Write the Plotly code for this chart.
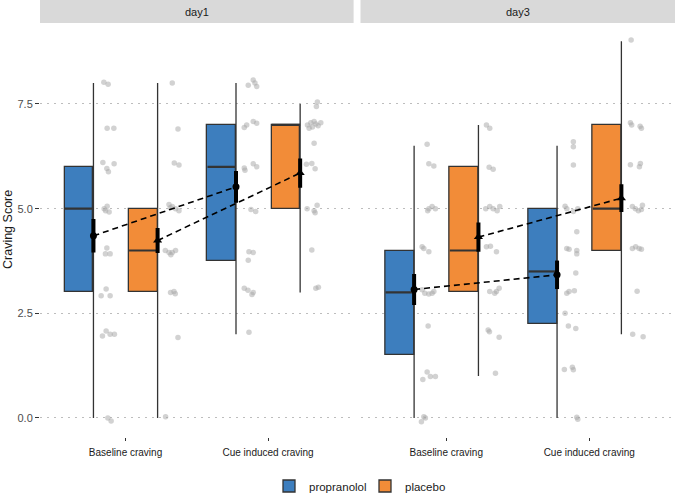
import plotly.graph_objects as go

# ---------------- data ----------------
days = ["day1", "day3"]
conditions = ["Baseline craving", "Cue induced craving"]
groups = ["propranolol", "placebo"]

# box statistics, cell order: day1-baseline, day1-cue, day3-baseline, day3-cue
prop_lo = [0, 2, 0, 0]
prop_q1 = [3, 3.75, 1.5, 2.25]
prop_med = [5, 6, 3, 3.5]
prop_q3 = [6, 7, 4, 5]
prop_hi = [8, 8, 6.5, 6.5]

plac_lo = [0, 3, 1, 2]
plac_q1 = [3, 5, 3, 4]
plac_med = [4, 7, 4, 5]
plac_q3 = [5, 7, 6, 7]
plac_hi = [8, 7.5, 7, 9]

prop_mean = [4.35, 5.52, 3.07, 3.42]
prop_se = [0.40, 0.38, 0.37, 0.34]
plac_mean = [4.24, 5.85, 4.32, 5.25]
plac_se = [0.30, 0.35, 0.35, 0.33]

# raw (jittered) observations and their horizontal jitter
d1_base_prop_y = [8.02, 7.97, 6.92, 6.92, 6.1, 6.07, 5.96, 5.88, 5.06, 5.0, 4.95, 4.92, 4.06, 3.92, 3.92,
                  3.08, 2.92, 2.92, 2.08, 1.96, 2.0, 2.0, 0.0, -0.07]
d1_base_prop_dx = [0.073, 0.103, 0.096, 0.143, 0.066, 0.145, 0.094, 0.105, 0.096, 0.075, 0.085, 0.11, 0.094,
                   0.084, 0.117, 0.089, 0.054, 0.117, 0.089, 0.063, 0.117, 0.147, 0.101, 0.124]
d1_base_plac_y = [8.0, 6.9, 6.09, 6.04, 5.1, 5.05, 5.0, 4.95, 5.02, 4.0, 3.95, 3.95, 4.0, 3.9, 3.0, 3.02, 2.97,
                  1.92, 0.03]
d1_base_plac_dx = [0.103, 0.143, 0.117, 0.15, 0.08, 0.103, 0.126, 0.15, 0.089, 0.054, 0.08, 0.103, 0.126, 0.093,
                   0.091, 0.115, 0.124, 0.143, 0.056]
d1_cue_prop_y = [7.95, 8.07, 8.0, 7.92, 6.94, 7.0, 7.08, 7.04, 5.97, 5.92, 6.07, 6.0, 4.98, 4.93, 3.97, 3.95,
                 3.77, 3.1, 3.05, 2.95, 3.0, 2.05]
d1_cue_prop_dx = [0.086, 0.121, 0.133, 0.145, 0.058, 0.075, 0.121, 0.145, 0.058, 0.063, 0.121, 0.145, 0.105,
                  0.138, 0.091, 0.121, 0.086, 0.058, 0.084, 0.112, 0.121, 0.091]
d1_cue_plac_y = [7.55, 7.44, 7.0, 7.05, 7.08, 6.95, 7.02, 7.05, 6.92, 6.98, 6.56, 6.06, 6.08, 5.95, 5.0, 4.95,
                 5.08, 4.9, 4.01, 3.1, 3.12]
d1_cue_plac_dx = [0.121, 0.114, 0.051, 0.075, 0.098, 0.086, 0.11, 0.145, 0.063, 0.126, 0.098, 0.044, 0.082,
                  0.105, 0.049, 0.098, 0.119, 0.105, 0.082, 0.11, 0.128]
d3_base_prop_y = [6.54, 6.07, 6.02, 5.0, 5.05, 5.0, 4.95, 4.09, 4.05, 3.97, 3.06, 2.98, 2.96, 2.98, 3.02, 2.2,
                  1.1, 0.99, 0.99, 0.92, 0.03, 0.0, -0.09]
d3_base_prop_dx = [0.091, 0.103, 0.138, 0.103, 0.126, 0.149, 0.095, 0.056, 0.068, 0.103, 0.056, 0.075, 0.103,
                   0.126, 0.138, 0.098, 0.091, 0.114, 0.149, 0.061, 0.068, 0.079, 0.051]
d3_base_plac_y = [7.0, 6.92, 5.99, 5.94, 5.0, 5.05, 5.0, 4.95, 5.05, 4.09, 4.1, 3.97, 3.02, 3.02, 3.1, 2.98,
                  2.1, 2.06, 1.93, 1.07]
d3_base_plac_dx = [0.056, 0.079, 0.075, 0.103, 0.051, 0.079, 0.103, 0.131, 0.149, 0.056, 0.084, 0.126, 0.079,
                   0.126, 0.145, 0.114, 0.068, 0.077, 0.145, 0.119]
d3_cue_prop_y = [6.6, 6.48, 6.04, 5.06, 5.0, 4.93, 5.0, 4.45, 4.05, 4.03, 4.0, 3.92, 3.46, 2.98, 3.02, 3.04,
                 2.5, 2.2, 2.14, 1.16, 1.21, 1.15, 0.02, -0.03]
d3_cue_prop_dx = [0.114, 0.114, 0.114, 0.056, 0.068, 0.114, 0.145, 0.138, 0.068, 0.084, 0.138, 0.138, 0.131,
                  0.068, 0.084, 0.121, 0.056, 0.079, 0.131, 0.051, 0.107, 0.114, 0.138, 0.145]
d3_cue_plac_y = [9.03, 7.05, 6.97, 6.92, 7.0, 6.05, 6.0, 6.08, 5.05, 5.0, 4.95, 4.98, 5.08, 4.05, 4.09, 4.05,
                 4.03, 3.03, 2.0, 1.94]
d3_cue_plac_dx = [0.068, 0.063, 0.131, 0.14, 0.072, 0.063, 0.126, 0.133, 0.077, 0.098, 0.119, 0.14, 0.147,
                  0.077, 0.1, 0.124, 0.14, 0.11, 0.079, 0.152]

y_ticks = [0.0, 2.5, 5.0, 7.5]
y_tick_labels = ["0.0", "2.5", "5.0", "7.5"]

# ---------------- styling ----------------
colors = {"propranolol": "#3D7EBE", "placebo": "#F28C38"}
symbols = {"propranolol": "circle", "placebo": "triangle-up"}
dodge = {"propranolol": -0.225, "placebo": 0.225}
box_w = 0.2
outline = "#333333"
FONT = "Liberation Sans, Arial, Helvetica, sans-serif"

stats = {
    "propranolol": (prop_lo, prop_q1, prop_med, prop_q3, prop_hi, prop_mean, prop_se),
    "placebo": (plac_lo, plac_q1, plac_med, plac_q3, plac_hi, plac_mean, plac_se),
}
points = {
    ("propranolol", 0): (d1_base_prop_y, d1_base_prop_dx),
    ("placebo", 0): (d1_base_plac_y, d1_base_plac_dx),
    ("propranolol", 1): (d1_cue_prop_y, d1_cue_prop_dx),
    ("placebo", 1): (d1_cue_plac_y, d1_cue_plac_dx),
    ("propranolol", 2): (d3_base_prop_y, d3_base_prop_dx),
    ("placebo", 2): (d3_base_plac_y, d3_base_plac_dx),
    ("propranolol", 3): (d3_cue_prop_y, d3_cue_prop_dx),
    ("placebo", 3): (d3_cue_plac_y, d3_cue_plac_dx),
}

fig = go.Figure()

for di, day in enumerate(days):
    xa = "x" if di == 0 else "x2"
    ya = "y" if di == 0 else "y2"
    # whiskers
    for g in groups:
        lo, q1, med, q3, hi, mn, se = stats[g]
        for ci in range(len(conditions)):
            k = di * 2 + ci
            xw = ci + 1 + dodge[g]
            fig.add_trace(go.Scatter(x=[xw, xw], y=[lo[k], hi[k]], mode="lines",
                                     line=dict(color=outline, width=1.3), showlegend=False,
                                     hoverinfo="skip", xaxis=xa, yaxis=ya))
    # boxes
    for g in groups:
        lo, q1, med, q3, hi, mn, se = stats[g]
        ks = [di * 2 + ci for ci in range(len(conditions))]
        xs = [ci + 1 + dodge[g] - box_w / 2 for ci in range(len(conditions))]
        fig.add_trace(go.Bar(x=xs, y=[q3[k] - q1[k] for k in ks], base=[q1[k] for k in ks],
                             width=box_w, marker=dict(color=colors[g], line=dict(color=outline, width=1.3)),
                             name=g, legendgroup=g, showlegend=(di == 0), xaxis=xa, yaxis=ya))
        # medians
        for ci, k in enumerate(ks):
            xw = ci + 1 + dodge[g]
            fig.add_trace(go.Scatter(x=[xw - box_w, xw], y=[med[k], med[k]], mode="lines",
                                     line=dict(color=outline, width=2.2), showlegend=False,
                                     hoverinfo="skip", xaxis=xa, yaxis=ya))
    # raw points
    for g in groups:
        for ci in range(len(conditions)):
            k = di * 2 + ci
            ys, dxs = points[(g, k)]
            xw = ci + 1 + dodge[g]
            fig.add_trace(go.Scatter(x=[xw + d for d in dxs], y=ys, mode="markers",
                                     marker=dict(color="rgba(165,165,165,0.5)", size=5.5, line=dict(width=0)),
                                     showlegend=False, hoverinfo="skip", xaxis=xa, yaxis=ya))
    # dashed mean lines + means with error bars
    for g in groups:
        lo, q1, med, q3, hi, mn, se = stats[g]
        ks = [di * 2 + ci for ci in range(len(conditions))]
        xs = [ci + 1 + dodge[g] for ci in range(len(conditions))]
        fig.add_trace(go.Scatter(x=xs, y=[mn[k] for k in ks], mode="lines",
                                 line=dict(color="black", width=1.6, dash="6px,4px"),
                                 showlegend=False, hoverinfo="skip", xaxis=xa, yaxis=ya))
        fig.add_trace(go.Scatter(x=xs, y=[mn[k] for k in ks], mode="markers",
                                 marker=dict(color="black", size=7 if g == "propranolol" else 8,
                                             symbol=symbols[g]),
                                 error_y=dict(type="data", array=[se[k] for k in ks], color="black",
                                              thickness=4, width=0),
                                 showlegend=False, hoverinfo="skip", xaxis=xa, yaxis=ya))

W, H = 675, 497
ml, mr, mt, mb = 40, 0, 23, 60
pw = W - ml - mr
ph = H - mt - mb
d1 = [0, (353.6 - ml) / pw]
d2 = [(360.5 - ml) / pw, 1]

xcommon = dict(range=[0.4, 2.6], tickvals=[1, 2], ticktext=conditions, showgrid=False, zeroline=False,
               ticks="outside", ticklen=3, tickcolor="#333333", tickwidth=1,
               tickfont=dict(size=10, color="#1a1a1a", family=FONT), ticklabelstandoff=3,
               showline=False, fixedrange=True, automargin=False)
ycommon = dict(range=[-0.454, 9.434], tickvals=y_ticks, ticktext=y_tick_labels, showgrid=True,
               gridcolor="#bdbdbd", gridwidth=1.2, griddash="2px,5px", zeroline=False, showline=False,
               automargin=False)

fig.update_layout(
    width=W, height=H,
    margin=dict(l=ml, r=mr, t=mt, b=mb, autoexpand=False),
    paper_bgcolor="white", plot_bgcolor="white",
    barmode="overlay", bargap=0,
    font=dict(family=FONT, color="#333333"),
    xaxis=dict(domain=d1, anchor="y", **xcommon),
    xaxis2=dict(domain=d2, anchor="y2", **xcommon),
    yaxis=dict(anchor="x", ticks="outside", ticklen=4, tickcolor="#333333", tickwidth=1,
               tickfont=dict(size=11, color="#4d4d4d", family=FONT), **ycommon),
    yaxis2=dict(anchor="x2", matches="y", showticklabels=False, ticks="", **ycommon),
    legend=dict(orientation="h", x=(269 - ml) / pw, xanchor="left", y=-49 / ph, yanchor="middle",
                font=dict(size=11.5, color="#1a1a1a", family=FONT), itemwidth=30,
                entrywidth=51, entrywidthmode="pixels", bgcolor="rgba(0,0,0,0)"),
    showlegend=True,
)

strip_top = 1 + mt / ph
for dom, day in [(d1, days[0]), (d2, days[1])]:
    fig.add_shape(type="rect", xref="paper", yref="paper", x0=dom[0], x1=dom[1], y0=1, y1=strip_top,
                  fillcolor="#d9d9d9", line=dict(width=0), layer="below")
    fig.add_annotation(xref="paper", yref="paper", x=(dom[0] + dom[1]) / 2, y=(1 + strip_top) / 2,
                       text=day, showarrow=False, xanchor="center", yanchor="middle",
                       font=dict(size=11, color="#1a1a1a", family=FONT))

fig.add_annotation(xref="paper", yref="paper", x=-32 / pw, y=0.5,
                   text="Craving Score", textangle=-90, showarrow=False, xanchor="center", yanchor="middle",
                   font=dict(size=12.5, color="#1a1a1a", family=FONT))

fig.write_html("out.html", config={"displayModeBar": False},
               post_script="document.body.style.margin='0';document.body.style.overflow='hidden';")
